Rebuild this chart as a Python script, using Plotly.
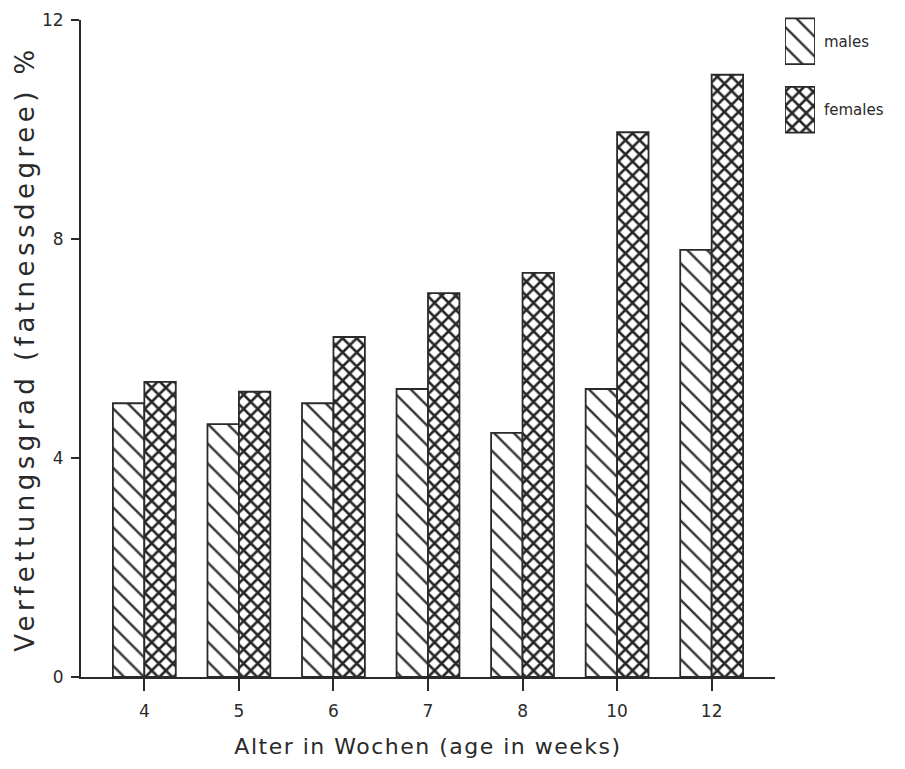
import plotly.graph_objects as go

ages = ["4", "5", "6", "7", "8", "10", "12"]
males = [5.0, 4.62, 5.0, 5.26, 4.46, 5.26, 7.80]
females = [5.39, 5.21, 6.21, 7.01, 7.38, 9.95, 11.0]
legend_labels = ["females", "males"]
legend_keys = [1, 1]

INK = "#2a2a2a"
FONT = "DejaVu Sans"

male_pat = dict(shape="\\", fgcolor="#333333", fgopacity=1, bgcolor="white",
                size=14, solidity=0.17, fillmode="replace")
female_pat = dict(shape="x", fgcolor="#262626", fgopacity=1, bgcolor="white",
                  size=10, solidity=0.45, fillmode="replace")

fig = go.Figure()

fig.add_trace(go.Bar(
    x=ages, y=males, name="males",
    marker=dict(color="white", line=dict(color=INK, width=1.8), pattern=male_pat),
    xaxis="x", yaxis="y", showlegend=False,
))
fig.add_trace(go.Bar(
    x=ages, y=females, name="females",
    marker=dict(color="white", line=dict(color=INK, width=1.8), pattern=female_pat),
    xaxis="x", yaxis="y", showlegend=False,
))

# legend keys drawn as an inset bar chart
fig.add_trace(go.Bar(
    y=[legend_labels[0]], x=[legend_keys[0]], orientation="h",
    marker=dict(color="white", line=dict(color=INK, width=1.8), pattern=female_pat),
    xaxis="x2", yaxis="y2", showlegend=False,
))
fig.add_trace(go.Bar(
    y=[legend_labels[1]], x=[legend_keys[1]], orientation="h",
    marker=dict(color="white", line=dict(color=INK, width=1.8), pattern=male_pat),
    xaxis="x2", yaxis="y2", showlegend=False,
))

W, H = 905, 769
L, R, T, B = 81, 5, 5, 92
pw, ph = W - L - R, H - T - B

def fx(px):
    return (px - L) / pw

def fy(py):
    return (H - B - py) / ph

fig.update_layout(
    width=W, height=H,
    margin=dict(l=L, r=R, t=T, b=B, autoexpand=False),
    paper_bgcolor="white", plot_bgcolor="white",
    barmode="group", bargap=0.335, bargroupgap=0,
    font=dict(family=FONT, color=INK),
    xaxis=dict(
        domain=[0, fx(775)], type="category", range=[-0.67, 6.67],
        showline=True, linecolor=INK, linewidth=1.8,
        ticks="outside", ticklen=12, tickwidth=1.5, tickcolor=INK,
        tickfont=dict(size=17), showgrid=False, zeroline=False,
        ticklabelstandoff=6, automargin=False,
        title=dict(text='<span style="letter-spacing:1.5px">Alter in Wochen (age in weeks)</span>',
                   font=dict(size=22), standoff=18),
        anchor="y",
    ),
    yaxis=dict(
        domain=[0, fy(20)], range=[0, 12], dtick=4, tick0=0,
        showline=True, linecolor=INK, linewidth=1.8,
        ticks="outside", ticklen=8, tickwidth=1.5, tickcolor=INK,
        tickfont=dict(size=17), showgrid=False, zeroline=False,
        ticklabelstandoff=4, automargin=False,
        title=dict(text='<span style="letter-spacing:4.5px">Verfettungsgrad (fatnessdegree) %</span>',
                   font=dict(size=26), standoff=0),
        anchor="x",
    ),
    xaxis2=dict(domain=[fx(785), fx(815)], range=[0, 1], visible=False, anchor="y2",
                automargin=False),
    yaxis2=dict(domain=[fy(144), fy(7)], type="category", anchor="x2", side="right",
                showline=False, showgrid=False, zeroline=False, ticks="",
                tickfont=dict(size=15), ticklabelstandoff=8, automargin=False),
)

fig.write_html("out.html")
